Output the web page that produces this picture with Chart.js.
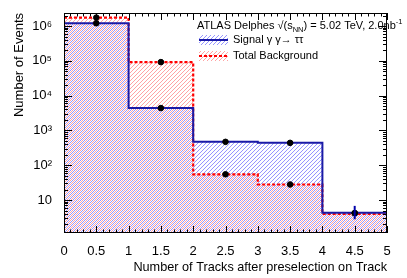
<!DOCTYPE html>
<html>
<head>
<meta charset="utf-8">
<script src="https://cdn.jsdelivr.net/npm/chart.js@4"></script>
<style>
  html, body { margin: 0; padding: 0; background: #fff; }
  #wrap { width: 407px; height: 278px; }
</style>
</head>
<body>
<div id="wrap"><canvas id="chart" width="407" height="278"></canvas></div>
<script>
// bin edges and contents
const binEdges = [0, 1, 2, 3, 4, 5];
const signalCounts = [1.2e6, 4.4e3, 470, 440, 4.3];
const backgroundCounts = [1.75e6, 9.2e4, 55, 28, 4.0];

// data markers
const dataX = [0.5, 1.5, 2.5, 3.5, 4.5];
const dataOnBkg = [1.75e6, 9.2e4, 55, 28, 4.2];
const dataOnSig = [1.2e6, 4.4e3, 470, 440, 4.2];
const dataErrUp = [0, 0, 0, 0, 2.6];
const dataErrDown = [0, 0, 0, 0, 1.4];

// axis ticks
const xTickVals = [0, 0.5, 1, 1.5, 2, 2.5, 3, 3.5, 4, 4.5, 5];
const xTickLabels = ['0', '0.5', '1', '1.5', '2', '2.5', '3', '3.5', '4', '4.5', '5'];
const yTickVals = [10, 100, 1e3, 1e4, 1e5, 1e6];
const yTickLabels = ['10', '10²', '10³', '10⁴', '10⁵', '10⁶'];

const FONT = '"Liberation Sans", Arial, sans-serif';
const RED_HATCH = 'rgba(255,100,100,0.75)';
const BLUE_HATCH = 'rgba(90,90,255,0.8)';
const HATCH_STEP = 4;

// histogram as stepped line: one point per left edge, last edge repeats the last bin
function histPoints(vals) {
  return binEdges.map((x, i) => ({ x: x, y: vals[Math.min(i, vals.length - 1)] }));
}

// diagonal "/" lines inside the current clip
function hatchLines(ctx, box, color, offset) {
  ctx.strokeStyle = color;
  ctx.lineWidth = 0.8;
  ctx.beginPath();
  const h = box.bottom - box.top;
  for (let x = box.left - h - 10 + offset; x < box.right + 10; x += HATCH_STEP) {
    ctx.moveTo(x, box.bottom);
    ctx.lineTo(x + h, box.top);
  }
  ctx.stroke();
}

// hatch under a stepped histogram, using the points placed by the library
function hatchHistogram(chart, index, color, offset) {
  const ctx = chart.ctx;
  const a = chart.chartArea;
  const pts = chart.getDatasetMeta(index).data;
  ctx.save();
  ctx.beginPath();
  ctx.moveTo(pts[0].x, a.bottom);
  ctx.lineTo(pts[0].x, pts[0].y);
  for (let i = 1; i < pts.length; i++) {
    ctx.lineTo(pts[i].x, pts[i - 1].y);
    ctx.lineTo(pts[i].x, pts[i].y);
  }
  ctx.lineTo(pts[pts.length - 1].x, a.bottom);
  ctx.closePath();
  ctx.clip();
  hatchLines(ctx, a, color, offset);
  ctx.restore();
}

// hatching, frame, inner ticks, error bars, titles, legend
const decorations = {
  id: 'decorations',
  beforeDatasetsDraw(chart) {
    hatchHistogram(chart, 3, RED_HATCH, 0);
    hatchHistogram(chart, 2, BLUE_HATCH, 2);
  },
  afterDatasetsDraw(chart) {
    const ctx = chart.ctx;
    const xs = chart.scales.x, ys = chart.scales.y;

    // error bars
    ctx.save();
    ctx.strokeStyle = '#0000aa';
    ctx.lineWidth = 2;
    dataX.forEach((x, i) => {
      if (!dataErrUp[i] && !dataErrDown[i]) return;
      const px = xs.getPixelForValue(x);
      const v = dataOnSig[i];
      ctx.beginPath();
      ctx.moveTo(px, ys.getPixelForValue(v + dataErrUp[i]));
      ctx.lineTo(px, ys.getPixelForValue(v - dataErrDown[i]));
      ctx.stroke();
    });
    ctx.restore();
  },
  afterDraw(chart) {
    const ctx = chart.ctx;
    const a = chart.chartArea;
    const xs = chart.scales.x, ys = chart.scales.y;
    ctx.save();

    // frame
    ctx.strokeStyle = '#000';
    ctx.lineWidth = 1;
    ctx.strokeRect(Math.round(a.left) + 0.5, Math.round(a.top) + 0.5,
      Math.round(a.right - a.left) - 1, Math.round(a.bottom - a.top) - 1);

    // x ticks, bottom and top
    ctx.beginPath();
    for (let i = 0; i <= 50; i++) {
      const v = i / 10;
      const px = Math.round(xs.getPixelForValue(v)) + 0.5;
      const len = (i % 5 === 0) ? 7 : 3.5;
      ctx.moveTo(px, a.bottom); ctx.lineTo(px, a.bottom - len);
      ctx.moveTo(px, a.top); ctx.lineTo(px, a.top + len);
    }
    // y ticks, left and right (log)
    for (let d = 0; d <= 6; d++) {
      for (let m = 1; m <= 9; m++) {
        const v = m * Math.pow(10, d);
        if (v < ys.min || v > ys.max) continue;
        const py = Math.round(ys.getPixelForValue(v)) + 0.5;
        const len = (m === 1) ? 8 : 4;
        ctx.moveTo(a.left, py); ctx.lineTo(a.left + len, py);
        ctx.moveTo(a.right, py); ctx.lineTo(a.right - len, py);
      }
    }
    ctx.stroke();

    // axis titles
    ctx.fillStyle = '#000';
    ctx.font = '12.7px ' + FONT;
    ctx.textAlign = 'right';
    ctx.textBaseline = 'alphabetic';
    ctx.fillText('Number of Tracks after preselection on Track', a.right, 271);
    ctx.save();
    ctx.translate(23, a.top);
    ctx.rotate(-Math.PI / 2);
    ctx.textAlign = 'right';
    ctx.font = '13px ' + FONT;
    ctx.fillText('Number of Events', 0, 0);
    ctx.restore();

    // header
    ctx.textAlign = 'left';
    let x = 197;
    const base = 29;
    ctx.font = '11px ' + FONT;
    const part1 = 'ATLAS Delphes √(s';
    ctx.fillText(part1, x, base); x += ctx.measureText(part1).width;
    ctx.font = '7.5px ' + FONT;
    ctx.fillText('NN', x, base + 3); x += ctx.measureText('NN').width;
    ctx.font = '11px ' + FONT;
    const part2 = ') = 5.02 TeV, 2.0nb';
    ctx.fillText(part2, x, base); x += ctx.measureText(part2).width;
    ctx.font = '7.5px ' + FONT;
    ctx.fillText('-1', x, base - 5);

    // legend
    const entries = [
      { y: 40, hatch: BLUE_HATCH, off: 2, line: '#1a1aa6', dash: [], text: 'Signal γ γ\u2192 ττ' },
      { y: 56, hatch: RED_HATCH, off: 0, line: '#ff0000', dash: [3, 2], text: 'Total Background' }
    ];
    entries.forEach(e => {
      const box = { left: 199, right: 228, top: e.y - 5, bottom: e.y + 5 };
      ctx.save();
      ctx.beginPath();
      ctx.rect(box.left, box.top, box.right - box.left, box.bottom - box.top);
      ctx.clip();
      hatchLines(ctx, box, e.hatch, e.off);
      ctx.restore();
      ctx.strokeStyle = e.line;
      ctx.lineWidth = 2;
      ctx.setLineDash(e.dash);
      ctx.beginPath();
      ctx.moveTo(199, e.y); ctx.lineTo(228, e.y);
      ctx.stroke();
      ctx.setLineDash([]);
      ctx.fillStyle = '#000';
      ctx.font = '11px ' + FONT;
      ctx.textBaseline = 'middle';
      ctx.fillText(e.text, 233, e.y);
      ctx.textBaseline = 'alphabetic';
    });
    ctx.restore();
  }
};

new Chart(document.getElementById('chart').getContext('2d'), {
  type: 'line',
  data: {
    datasets: [
      {
        label: 'Data (bkg)',
        type: 'scatter',
        data: dataX.map((x, i) => ({ x: x, y: dataOnBkg[i] })),
        pointRadius: 2.8,
        pointBackgroundColor: '#000',
        pointBorderColor: '#000',
        order: 0
      },
      {
        label: 'Data (sig)',
        type: 'scatter',
        data: dataX.map((x, i) => ({ x: x, y: dataOnSig[i] })),
        pointRadius: 2.8,
        pointBackgroundColor: '#000',
        pointBorderColor: '#000',
        order: 0
      },
      {
        label: 'Signal γ γ→ ττ',
        data: histPoints(signalCounts),
        stepped: true,
        borderColor: '#1a1aa6',
        borderWidth: 2,
        fill: false,
        pointRadius: 0,
        order: 1
      },
      {
        label: 'Total Background',
        data: histPoints(backgroundCounts),
        stepped: true,
        borderColor: '#ff0000',
        borderWidth: 2.2,
        borderDash: [3, 2],
        fill: false,
        pointRadius: 0,
        order: 2
      }
    ]
  },
  options: {
    responsive: false,
    animation: false,
    layout: { padding: { top: 13, right: 20, left: 0, bottom: 0 } },
    plugins: {
      legend: { display: false },
      tooltip: { enabled: false }
    },
    scales: {
      x: {
        type: 'linear',
        min: 0,
        max: 5,
        grid: { display: false },
        border: { display: false },
        afterBuildTicks: s => { s.ticks = xTickVals.map(v => ({ value: v })); },
        afterFit: s => { s.height = 45; },
        ticks: {
          padding: 3,
          autoSkip: false,
          maxRotation: 0,
          color: '#000',
          font: { family: FONT, size: 13 },
          callback: v => xTickLabels[xTickVals.indexOf(v)]
        }
      },
      y: {
        type: 'logarithmic',
        min: 1.13,
        max: 2.37e6,
        grid: { display: false },
        border: { display: false },
        afterBuildTicks: s => { s.ticks = yTickVals.map(v => ({ value: v })); },
        afterFit: s => { s.width = 64; },
        ticks: {
          padding: 4,
          autoSkip: false,
          color: '#000',
          font: { family: FONT, size: 13 },
          callback: v => yTickLabels[yTickVals.indexOf(v)]
        }
      }
    }
  },
  plugins: [decorations]
});
</script>
</body>
</html>
